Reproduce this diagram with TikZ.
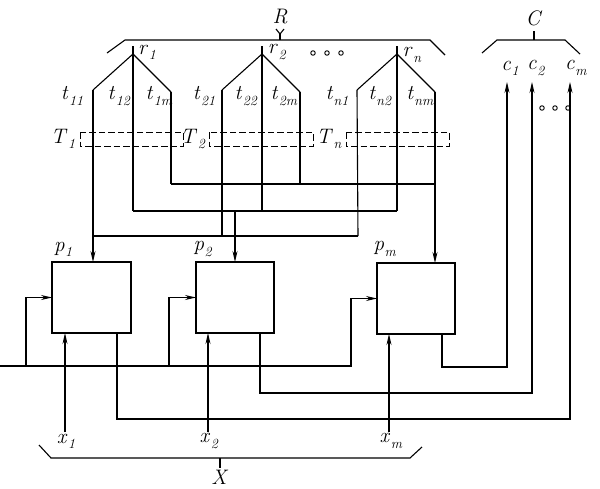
\documentclass[tikz,border=0pt]{standalone}
\usepackage{fontspec}
\usetikzlibrary{arrows.meta}
\newcommand\lab[2]{\textit{#1}\raisebox{-0.25em}{\kern0.5pt\fontsize{14}{15}\selectfont\textit{#2}}}
\begin{document}
\begin{tikzpicture}[x=1pt,y=-1pt,line width=1.1pt,line join=miter,
  arr/.style={-{Stealth[length=11pt,width=5pt]}},
  blk/.style={draw,minimum width=79pt,minimum height=71pt,inner sep=0pt,outer sep=0pt},
  lbl/.style={font=\fontsize{21}{23}\selectfont,inner sep=0pt},
  tbox/.style={draw,dash pattern=on 6.5pt off 3pt,line width=1pt},
  dot/.style={draw,circle,line width=0.9pt,minimum size=4.5pt,inner sep=0pt}]
\useasboundingbox (0,0) rectangle (600,488);
% blocks
\node[blk] (P1) at (91.5,297.5) {};
\node[blk,minimum width=78pt] (P2) at (235,297.5) {};
\node[blk,minimum width=78pt] (Pm) at (416,298.5) {};
\node[lbl] (lp1) at (63,249) {\lab{p}{1}};
\node[lbl] (lp2) at (203,249) {\lab{p}{2}};
\node[lbl] (lpm) at (385,249) {\lab{p}{m}};
% r apexes and corners
\foreach \n/\x in {1/133,2/262,n/397}{
  \coordinate (r\n top) at (\x,46);
  \coordinate (r\n) at (\x,54);
  \coordinate (r\n L) at (\x-40,90);
  \coordinate (r\n R) at (\x+38,92);
}
% junction coordinates
\coordinate (a1) at (93,236);
\coordinate (a2) at (222,236);
\coordinate (a3) at (358,236);
\coordinate (b1) at (133,211);
\coordinate (b2) at (262,211);
\coordinate (b3) at (397,211);
\coordinate (bP) at (235,211);
\coordinate (c1j) at (171,184);
\coordinate (c2j) at (300,184);
\coordinate (c3j) at (435,184);
% tree shapes
\foreach \n in {1,2,n}{
  \draw (r\n L) -- (r\n) -- (r\n R);
  \draw (r\n top) -- (r\n |- b1);
}
\draw (r1L) -- (a1);
\draw (r2L) -- (a2);
\draw (rnL) -- (a3);
\draw (r1R) -- (c1j);
\draw (r2R) -- (c2j);
\draw (rnR) -- (c3j);
% buses
\draw (a1) -- (a3);
\draw (b1) -- (b3);
\draw (c1j) -- (c3j);
\draw[arr] (a1) -- (a1 |- P1.north);
\draw[arr] (bP) -- (bP |- P2.north);
\draw[arr] (c3j) -- (c3j |- Pm.north);
% dashed T boxes
\draw[tbox] (80,132) rectangle (183,146);
\draw[tbox] (209,132) rectangle (313,146);
\draw[tbox] (346,132) rectangle (449,146);
\node[lbl] (T1) at (63,139) {\lab{T}{1}};
\node[lbl] (T2) at (193,139) {\lab{T}{2}};
\node[lbl] (Tn) at (329,139) {\lab{T}{n}};
% t labels
\node[lbl] at (72,96) {\lab{t}{11}};
\node[lbl] at (119,96) {\lab{t}{12}};
\node[lbl] at (159,96) {\lab{t}{1m}};
\node[lbl] at (204,96) {\lab{t}{21}};
\node[lbl] at (246,96) {\lab{t}{22}};
\node[lbl] at (284,96) {\lab{t}{2m}};
\node[lbl] at (337,96) {\lab{t}{n1}};
\node[lbl] at (380,96) {\lab{t}{n2}};
\node[lbl] at (420,96) {\lab{t}{nm}};
% r labels
\node[lbl] (lr1) at (147,52) {\lab{r}{1}};
\node[lbl] (lr2) at (277,52) {\lab{r}{2}};
\node[lbl] (lrn) at (412,55) {\lab{r}{n}};
\node[dot] at (313,53) {};
\node[dot] at (327,53) {};
\node[dot] at (341,53) {};
% R brace
\draw (107,53) -- (125,40) -- (430,40) -- (445,55);
\coordinate (Rt) at (280,34);
\draw (280,40) -- (Rt);
\draw (276,29) -- (Rt) -- (284,29);
\node[lbl] (R) at (280,17) {\textit{R}};
% C brace
\draw (482,53) -- (497,40) -- (565,40) -- (580,54);
\draw (534,40) -- (534,31);
\node[lbl] (C) at (534,18) {\textit{C}};
% outputs c
\coordinate (ct1) at (507,82);
\coordinate (ct2) at (532,82);
\coordinate (ct3) at (570,82);
\node[lbl] (lc1) at (510,68) {\lab{c}{1}};
\node[lbl] (lc2) at (536,68) {\lab{c}{2}};
\node[lbl] (lcm) at (576,68) {\lab{c}{m}};
\node[dot] at (542,108) {};
\node[dot] at (555,108) {};
\node[dot] at (568,108) {};
\coordinate (o1) at (117,419);
\coordinate (o2) at (260,393);
\coordinate (o3) at (442,367);
\draw[arr] (o1 |- P1.south) -- (o1) -- (ct3 |- o1) -- (ct3);
\draw[arr] (o2 |- P2.south) -- (o2) -- (ct2 |- o2) -- (ct2);
\draw[arr] (o3 |- Pm.south) -- (o3) -- (ct1 |- o3) -- (ct1);
% feedback bus
\coordinate (bus0) at (0,366);
\coordinate (busE) at (351,366);
\coordinate (f1) at (26,366);
\coordinate (f2) at (169,366);
\draw[arr] (bus0) -- (busE) -- (busE |- Pm.west) -- (Pm.west);
\draw[arr] (f1) -- (f1 |- P1.west) -- (P1.west);
\draw[arr] (f2) -- (f2 |- P2.west) -- (P2.west);
% inputs x
\coordinate (x1) at (65,432);
\coordinate (x2) at (208,432);
\coordinate (x3) at (389,432);
\draw[arr] (x1) -- (x1 |- P1.south);
\draw[arr] (x2) -- (x2 |- P2.south);
\draw[arr] (x3) -- (x3 |- Pm.south);
\node[lbl] (lx1) at (66,441) {\lab{x}{1}};
\node[lbl] (lx2) at (209,441) {\lab{x}{2}};
\node[lbl] (lxm) at (391,441) {\lab{x}{m}};
% X brace
\draw (39,445) -- (51,458) -- (410,458) -- (422,447);
\draw (220,458) -- (220,468);
\node[lbl] (X) at (220,477) {\textit{X}};
\end{tikzpicture}
\end{document}
